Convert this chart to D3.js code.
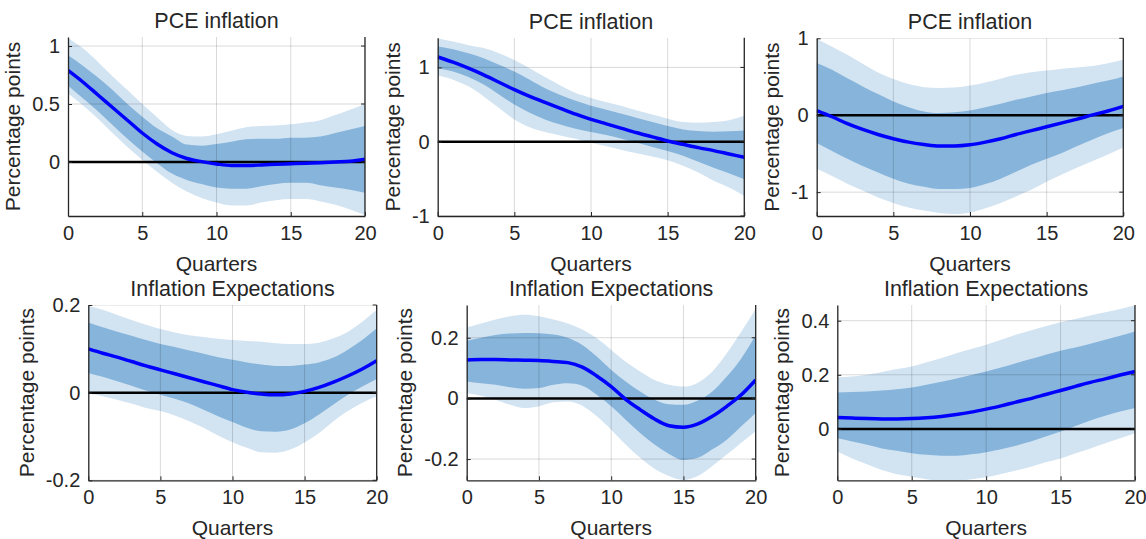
<!DOCTYPE html>
<html>
<head>
<meta charset="utf-8">
<script src="https://cdn.jsdelivr.net/npm/d3@7"></script>
<style>
  body { margin: 0; background: #fff; }
  svg { display: block; }
  text { font-family: "Liberation Sans", Arial, Helvetica, sans-serif; fill: #262626; }
</style>
</head>
<body>
<div id="chartArea"></div>
<script>
// quarters on the x axis
const quarters = [0,1,2,3,4,5,6,7,8,9,10,11,12,13,14,15,16,17,18,19,20];
const xTicks = [0, 5, 10, 15, 20];

const titles = ["PCE inflation", "PCE inflation", "PCE inflation",
                "Inflation Expectations", "Inflation Expectations", "Inflation Expectations"];

// panel 1
const p1Median  = [0.79,0.69,0.58,0.47,0.36,0.25,0.155,0.08,0.03,0.003,-0.017,-0.03,-0.03,-0.026,-0.02,-0.015,-0.01,-0.006,0,0.006,0.023];
const p1InnerHi = [0.92,0.83,0.73,0.62,0.50,0.39,0.29,0.22,0.15,0.14,0.155,0.175,0.195,0.20,0.20,0.21,0.21,0.22,0.25,0.28,0.31];
const p1InnerLo = [0.66,0.55,0.44,0.32,0.20,0.09,-0.01,-0.10,-0.155,-0.19,-0.22,-0.23,-0.23,-0.21,-0.19,-0.18,-0.18,-0.20,-0.22,-0.24,-0.265];
const p1OuterHi = [1.07,0.98,0.865,0.74,0.62,0.50,0.385,0.275,0.225,0.22,0.24,0.27,0.30,0.31,0.315,0.325,0.34,0.36,0.405,0.45,0.50];
const p1OuterLo = [0.59,0.49,0.375,0.25,0.13,0.02,-0.085,-0.18,-0.255,-0.31,-0.35,-0.375,-0.375,-0.35,-0.33,-0.32,-0.32,-0.34,-0.37,-0.41,-0.46];

// panel 2
const p2Median  = [1.14,1.07,0.99,0.90,0.80,0.70,0.61,0.53,0.45,0.37,0.30,0.24,0.18,0.12,0.065,0.01,-0.035,-0.08,-0.12,-0.165,-0.21];
const p2InnerHi = [1.28,1.245,1.19,1.125,1.035,0.945,0.835,0.72,0.63,0.55,0.485,0.43,0.375,0.32,0.265,0.21,0.165,0.145,0.135,0.14,0.15];
const p2InnerLo = [0.99,0.945,0.87,0.77,0.635,0.50,0.39,0.30,0.23,0.175,0.13,0.09,0.04,-0.015,-0.07,-0.125,-0.19,-0.27,-0.35,-0.425,-0.505];
const p2OuterHi = [1.39,1.35,1.30,1.26,1.19,1.10,0.99,0.87,0.755,0.655,0.59,0.53,0.48,0.42,0.365,0.31,0.265,0.255,0.265,0.29,0.35];
const p2OuterLo = [0.89,0.835,0.745,0.61,0.455,0.30,0.195,0.13,0.085,0.04,-0.015,-0.06,-0.11,-0.155,-0.20,-0.25,-0.325,-0.415,-0.525,-0.615,-0.73];

// panel 3
const p3Median  = [0.06,-0.02,-0.11,-0.185,-0.25,-0.305,-0.35,-0.38,-0.40,-0.40,-0.385,-0.35,-0.305,-0.25,-0.20,-0.15,-0.10,-0.05,0.005,0.055,0.115];
const p3InnerHi = [0.68,0.59,0.48,0.375,0.275,0.18,0.105,0.05,0.03,0.04,0.06,0.105,0.15,0.20,0.245,0.29,0.325,0.365,0.41,0.45,0.505];
const p3InnerLo = [-0.36,-0.465,-0.565,-0.66,-0.745,-0.825,-0.89,-0.93,-0.96,-0.96,-0.945,-0.895,-0.825,-0.735,-0.645,-0.565,-0.49,-0.40,-0.315,-0.235,-0.165];
const p3OuterHi = [0.99,0.89,0.785,0.67,0.555,0.47,0.405,0.365,0.355,0.36,0.385,0.425,0.475,0.525,0.56,0.58,0.605,0.62,0.64,0.675,0.72];
const p3OuterLo = [-0.695,-0.79,-0.89,-0.98,-1.07,-1.14,-1.20,-1.24,-1.27,-1.285,-1.265,-1.21,-1.14,-1.055,-0.97,-0.865,-0.77,-0.68,-0.595,-0.51,-0.42];

// panel 4
const p4Median  = [0.10,0.09,0.081,0.071,0.061,0.052,0.043,0.034,0.025,0.016,0.007,0.001,-0.003,-0.005,-0.003,0.003,0.012,0.024,0.038,0.054,0.073];
const p4InnerHi = [0.16,0.149,0.139,0.13,0.12,0.111,0.104,0.096,0.089,0.081,0.075,0.069,0.064,0.061,0.061,0.064,0.069,0.08,0.098,0.12,0.147];
const p4InnerLo = [0.045,0.036,0.026,0.016,0.005,-0.005,-0.014,-0.025,-0.039,-0.054,-0.067,-0.08,-0.088,-0.089,-0.084,-0.07,-0.05,-0.027,-0.005,0.014,0.031];
const p4OuterHi = [0.198,0.189,0.177,0.166,0.155,0.145,0.137,0.131,0.127,0.123,0.12,0.118,0.116,0.113,0.111,0.111,0.114,0.124,0.139,0.162,0.189];
const p4OuterLo = [-0.002,-0.008,-0.016,-0.025,-0.035,-0.042,-0.052,-0.065,-0.08,-0.098,-0.113,-0.126,-0.136,-0.137,-0.13,-0.114,-0.092,-0.065,-0.042,-0.023,-0.008];

// panel 5
const p5Median  = [0.127,0.128,0.128,0.127,0.126,0.125,0.122,0.118,0.103,0.074,0.039,-0.003,-0.037,-0.068,-0.09,-0.095,-0.084,-0.059,-0.026,0.012,0.061];
const p5InnerHi = [0.19,0.20,0.209,0.214,0.216,0.215,0.211,0.20,0.176,0.138,0.094,0.056,0.023,-0.004,-0.019,-0.021,-0.007,0.023,0.072,0.132,0.209];
const p5InnerLo = [0.056,0.05,0.045,0.037,0.032,0.034,0.045,0.05,0.042,0.012,-0.026,-0.07,-0.114,-0.152,-0.183,-0.203,-0.196,-0.168,-0.136,-0.092,-0.048];
const p5OuterHi = [0.234,0.247,0.26,0.271,0.276,0.271,0.26,0.247,0.227,0.198,0.16,0.121,0.089,0.061,0.045,0.039,0.052,0.089,0.149,0.22,0.296];
const p5OuterLo = [0.017,0.009,-0.004,-0.021,-0.032,-0.026,-0.013,-0.01,-0.024,-0.059,-0.103,-0.152,-0.196,-0.232,-0.256,-0.269,-0.256,-0.223,-0.185,-0.146,-0.108];

// panel 6
const p6Median  = [0.042,0.04,0.038,0.037,0.037,0.038,0.041,0.046,0.053,0.062,0.073,0.085,0.099,0.112,0.127,0.142,0.157,0.172,0.185,0.199,0.212];
const p6InnerHi = [0.135,0.136,0.138,0.142,0.147,0.153,0.163,0.174,0.186,0.199,0.212,0.227,0.243,0.258,0.274,0.289,0.301,0.315,0.33,0.344,0.36];
const p6InnerLo = [-0.035,-0.047,-0.059,-0.072,-0.081,-0.09,-0.096,-0.099,-0.099,-0.094,-0.086,-0.075,-0.062,-0.047,-0.028,-0.01,0.011,0.031,0.049,0.064,0.077];
const p6OuterHi = [0.191,0.194,0.20,0.21,0.221,0.231,0.246,0.262,0.28,0.295,0.311,0.33,0.348,0.364,0.379,0.394,0.406,0.419,0.431,0.443,0.456];
const p6OuterLo = [-0.084,-0.109,-0.131,-0.152,-0.168,-0.177,-0.186,-0.191,-0.191,-0.186,-0.179,-0.167,-0.154,-0.14,-0.123,-0.109,-0.09,-0.072,-0.053,-0.035,-0.016];

// y axis limits and ticks per panel
const yDomains = [[-0.466, 1.078], [-1, 1.40], [-1.31, 1], [-0.2, 0.2], [-0.27, 0.308], [-0.19, 0.458]];
const yTicks = [[0, 0.5, 1], [-1, 0, 1], [-1, 0, 1], [-0.2, 0, 0.2], [-0.2, 0, 0.2], [0, 0.2, 0.4]];

let panels = [
    {median: p1Median, inLo: p1InnerLo, inHi: p1InnerHi, outLo: p1OuterLo, outHi: p1OuterHi},
    {median: p2Median, inLo: p2InnerLo, inHi: p2InnerHi, outLo: p2OuterLo, outHi: p2OuterHi},
    {median: p3Median, inLo: p3InnerLo, inHi: p3InnerHi, outLo: p3OuterLo, outHi: p3OuterHi},
    {median: p4Median, inLo: p4InnerLo, inHi: p4InnerHi, outLo: p4OuterLo, outHi: p4OuterHi},
    {median: p5Median, inLo: p5InnerLo, inHi: p5InnerHi, outLo: p5OuterLo, outHi: p5OuterHi},
    {median: p6Median, inLo: p6InnerLo, inHi: p6InnerHi, outLo: p6OuterLo, outHi: p6OuterHi}
];

// axes boxes in page pixels: left, top, right, bottom
let boxes = [
    [68, 37, 365, 216],
    [437.7, 37.7, 744.3, 216],
    [816.7, 38.3, 1123.3, 216],
    [88.3, 305, 376.7, 480.3],
    [466.7, 305, 755.7, 480.3],
    [837.3, 305, 1135, 480.3]
];

let svg = d3.select('#chartArea')
    .append('svg')
        .attr('width', 1146)
        .attr('height', 539);

let textColor = '#262626';

panels.forEach((p, i) => {
    let [left, top, right, bottom] = boxes[i];
    let w = right - left, h = bottom - top;

    let xScale = d3.scaleLinear().domain([0, 20]).range([0, w]);
    let yScale = d3.scaleLinear().domain(yDomains[i]).range([h, 0]);

    let g = svg.append('g')
        .attr('transform', 'translate(' + left + ',' + top + ')');

    g.append('clipPath')
        .attr('id', 'clip' + i)
      .append('rect')
        .attr('width', w)
        .attr('height', h);

    let plot = g.append('g').attr('clip-path', 'url(#clip' + i + ')');

    let band = (lo, hi) => d3.area()
        .x((d, j) => xScale(quarters[j]))
        .y0((d, j) => yScale(lo[j]))
        .y1((d, j) => yScale(hi[j]))
        .curve(d3.curveMonotoneX);

    plot.append('path')
        .attr('d', band(p.outLo, p.outHi)(quarters))
        .attr('fill', '#d2e3f2');

    plot.append('path')
        .attr('d', band(p.inLo, p.inHi)(quarters))
        .attr('fill', '#86b4da');

    // grid lines, drawn over the bands like in the original
    plot.selectAll('.vgrid')
        .data(xTicks)
        .enter().append('line')
        .attr('x1', d => xScale(d)).attr('x2', d => xScale(d))
        .attr('y1', 0).attr('y2', h)
        .attr('stroke', 'rgba(0,0,0,0.15)')
        .attr('stroke-width', 1);

    plot.selectAll('.hgrid')
        .data(yTicks[i])
        .enter().append('line')
        .attr('x1', 0).attr('x2', w)
        .attr('y1', d => yScale(d)).attr('y2', d => yScale(d))
        .attr('stroke', 'rgba(0,0,0,0.15)')
        .attr('stroke-width', 1);

    // zero line
    plot.append('line')
        .attr('x1', 0).attr('x2', w)
        .attr('y1', yScale(0)).attr('y2', yScale(0))
        .attr('stroke', '#000')
        .attr('stroke-width', 2.5);

    let line = d3.line()
        .x((d, j) => xScale(quarters[j]))
        .y(d => yScale(d))
        .curve(d3.curveMonotoneX);

    plot.append('path')
        .attr('d', line(p.median))
        .attr('fill', 'none')
        .attr('stroke', '#0000ff')
        .attr('stroke-width', 3.5);

    // axes
    let xAxis = g.append('g')
        .attr('transform', 'translate(0,' + h + ')')
        .call(d3.axisBottom(xScale).tickValues(xTicks).tickSizeInner(-4).tickSizeOuter(0).tickPadding(10));

    let yAxis = g.append('g')
        .call(d3.axisLeft(yScale).tickValues(yTicks[i]).tickSizeInner(-4).tickSizeOuter(0).tickPadding(8)
            .tickFormat(d => String(d)));

    [xAxis, yAxis].forEach(a => {
        a.select('.domain').attr('stroke', textColor).attr('stroke-width', 1.3);
        a.selectAll('.tick line').attr('stroke', textColor);
        a.selectAll('.tick text')
            .attr('fill', textColor)
            .style('font-size', '20px')
            .style('font-family', '"Liberation Sans", Arial, sans-serif');
    });

    // right edge of the box
    g.append('line')
        .attr('x1', w).attr('x2', w)
        .attr('y1', 0).attr('y2', h)
        .attr('stroke', textColor)
        .attr('stroke-width', 1.3);

    g.selectAll('.rtick')
        .data(yTicks[i])
        .enter().append('line')
        .attr('x1', w - 4).attr('x2', w)
        .attr('y1', d => yScale(d)).attr('y2', d => yScale(d))
        .attr('stroke', textColor);

    // title
    g.append('text')
        .attr('x', w / 2)
        .attr('y', -9)
        .attr('text-anchor', 'middle')
        .style('font-size', '21.5px')
        .text(titles[i]);

    // x label
    g.append('text')
        .attr('x', w / 2)
        .attr('y', h + 55)
        .attr('text-anchor', 'middle')
        .style('font-size', '21px')
        .text('Quarters');

    // y label, placed left of the widest tick label
    let maxTick = 0;
    yAxis.selectAll('.tick text').each(function () {
        maxTick = Math.max(maxTick, this.getComputedTextLength());
    });

    g.append('text')
        .attr('transform', 'translate(' + (-maxTick - 20) + ',' + (h / 2) + ') rotate(-90)')
        .attr('text-anchor', 'middle')
        .style('font-size', '21px')
        .text('Percentage points');
});
</script>
</body>
</html>
